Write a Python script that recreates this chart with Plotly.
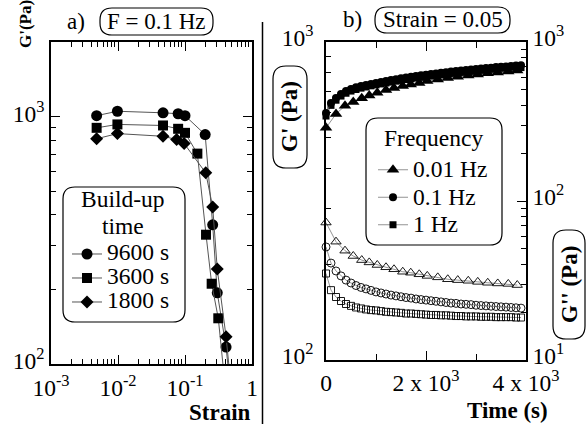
import math
import plotly.graph_objects as go

W, H = 588, 424
SERIF = "Liberation Serif, Times New Roman, Times, serif"

# ---- (a) strain sweep at F = 0.1 Hz, three build-up times ----
strain_9600 = [0.0048, 0.0098, 0.047, 0.079, 0.100, 0.200, 0.259, 0.303, 0.410, 0.500]
gp_9600 = [1008, 1050, 1035, 1026, 1008, 845, 365, 194, 117, 70]
strain_3600 = [0.0048, 0.0098, 0.047, 0.079, 0.100, 0.153, 0.206, 0.250, 0.314, 0.400]
gp_3600 = [900, 929, 920, 892, 859, 708, 333, 211, 153, 80]
strain_1800 = [0.0048, 0.0098, 0.047, 0.075, 0.097, 0.204, 0.259, 0.303, 0.410, 0.500]
gp_1800 = [813, 853, 832, 807, 778, 592, 431, 242, 129, 75]
buildup_labels = ["9600 s", "3600 s", "1800 s"]

# ---- (b) time sweep at strain 0.05, three frequencies ----
time_001 = [0, 200, 380, 545, 715, 865, 1025, 1200, 1360, 1535, 1695, 1865, 2025,
            2235, 2435, 2635, 2845, 3035, 3235, 3435, 3645, 3825]
gp_001 = [537, 594, 630, 648, 666, 679, 692, 707, 717, 727, 735, 743, 754,
          762, 771, 777, 785, 791, 797, 802, 808, 813]
gpp_001 = [73.2, 55.5, 48.7, 45.1, 42.5, 41.1, 39.6, 38.3, 37.2, 35.9, 35.4, 34.6, 33.8,
           33.1, 32.2, 31.8, 31.5, 31.0, 30.6, 30.3, 30.1, 29.6]

time_fast = [0, 100, 200, 300, 400, 500, 600, 700, 800, 900, 1000, 1100, 1200, 1300,
             1400, 1500, 1600, 1700, 1800, 1900, 2000, 2100, 2200, 2300, 2400, 2500,
             2600, 2700, 2800, 2900, 3000, 3100, 3200, 3300, 3400, 3500, 3600, 3700,
             3800, 3900]
gp_01 = [598, 643, 667, 686, 701, 711, 720, 727, 732, 738, 743, 748, 754, 760, 764,
         769, 773, 778, 782, 786, 789, 793, 796, 800, 804, 807, 811, 813, 817, 819,
         822, 826, 828, 830, 834, 836, 838, 841, 843, 845]
gp_1 = [585, 632, 656, 676, 690, 701, 709, 716, 722, 728, 733, 738, 743, 748, 753,
        757, 762, 766, 770, 774, 778, 781, 785, 788, 791, 795, 798, 801, 804, 807,
        810, 812, 815, 817, 820, 822, 825, 827, 829, 831]
gpp_01 = [51.4, 40.7, 36.3, 33.8, 31.8, 30.5, 29.4, 28.6, 28.0, 27.4, 26.8, 26.4, 26.0,
          25.6, 25.3, 25.0, 24.7, 24.5, 24.2, 24.0, 23.8, 23.6, 23.4, 23.2, 23.0, 22.8,
          22.7, 22.5, 22.4, 22.3, 22.1, 22.0, 21.9, 21.8, 21.7, 21.6, 21.5, 21.4, 21.3, 21.2]
gpp_1 = [35.0, 27.5, 24.9, 23.5, 22.5, 21.9, 21.4, 21.1, 20.8, 20.6, 20.5, 20.3, 20.1,
         20.0, 19.9, 19.8, 19.6, 19.6, 19.5, 19.4, 19.3, 19.2, 19.2, 19.1, 19.1, 19.0,
         18.9, 18.9, 18.8, 18.8, 18.8, 18.7, 18.7, 18.7, 18.6, 18.6, 18.6, 18.6, 18.5, 18.5]
freq_labels = ["0.01 Hz", "0.1 Hz", "1 Hz"]

# tick definitions
strain_ticks = [0.001, 0.01, 0.1, 1]
strain_ticktext = ["10<sup>-3</sup>", "10<sup>-2</sup>", "10<sup>-1</sup>", "1"]
time_ticks = [0, 2000, 4000]
time_ticktext = ["0", "2 x 10<sup>3</sup>", "4 x 10<sup>3</sup>"]


def px_x(x):
    return x / W


def px_y(y):
    return 1 - y / H


def decade_minors(lo, hi):
    vals = []
    for e in range(lo, hi):
        for m in range(2, 10):
            vals.append(m * 10 ** e)
    return vals


def rounded_box(x0, y0, x1, y1, r, width=1.2):
    X, Y = px_x, px_y
    path = (f"M{X(x0 + r)},{Y(y0)} L{X(x1 - r)},{Y(y0)} Q{X(x1)},{Y(y0)} {X(x1)},{Y(y0 + r)} "
            f"L{X(x1)},{Y(y1 - r)} Q{X(x1)},{Y(y1)} {X(x1 - r)},{Y(y1)} "
            f"L{X(x0 + r)},{Y(y1)} Q{X(x0)},{Y(y1)} {X(x0)},{Y(y1 - r)} "
            f"L{X(x0)},{Y(y0 + r)} Q{X(x0)},{Y(y0)} {X(x0 + r)},{Y(y0)} Z")
    return dict(type="path", xref="paper", yref="paper", path=path,
                line=dict(color="black", width=width))


def text_at(text, x, y, size, bold=False, angle=0, xanchor="center"):
    if bold:
        text = f"<b>{text}</b>"
    return dict(text=text, x=px_x(x), y=px_y(y), xref="paper", yref="paper",
                xanchor=xanchor, yanchor="middle", showarrow=False, textangle=angle,
                font=dict(family=SERIF, size=size, color="black"))


def legend_name(text, size):
    return f'<span style="font-size:{size}px">{text}</span>'


fig = go.Figure()

LINE_GREY = "#555555"

# (a) strain sweeps
for xs, ys, sym, sz, lab in [
    (strain_9600, gp_9600, "circle", 11, buildup_labels[0]),
    (strain_3600, gp_3600, "square", 10, buildup_labels[1]),
    (strain_1800, gp_1800, "diamond", 10, buildup_labels[2]),
]:
    fig.add_trace(go.Scatter(
        x=xs, y=ys, mode="lines+markers", xaxis="x", yaxis="y",
        name=legend_name(lab, 23.5), legend="legend",
        line=dict(color=LINE_GREY, width=1),
        marker=dict(symbol=sym, size=sz, color="black", line=dict(width=0)),
    ))

# (b) G'' (open symbols, right axis)
for ys, ts, sym, sz in [
    (gpp_001, time_001, "triangle-up-open", 9),
    (gpp_01, time_fast, "circle-open", 8),
    (gpp_1, time_fast, "square-open", 7),
]:
    fig.add_trace(go.Scatter(
        x=ts, y=ys, mode="lines+markers", xaxis="x2", yaxis="y3",
        showlegend=False, cliponaxis=False,
        line=dict(color="#777777", width=0.8),
        marker=dict(symbol=sym, size=sz, color="black", line=dict(width=0.9, color="black")),
    ))

# (b) G' (filled symbols, left axis)
for ys, ts, sym, sz, lab in [
    (gp_1, time_fast, "square", 7, freq_labels[2]),
    (gp_01, time_fast, "circle", 8, freq_labels[1]),
    (gp_001, time_001, "triangle-up", 11, freq_labels[0]),
]:
    fig.add_trace(go.Scatter(
        x=ts, y=ys, mode="lines+markers", xaxis="x2", yaxis="y2",
        name=legend_name(lab, 23.5), legend="legend2", cliponaxis=False,
        line=dict(color="#777777", width=0.8),
        marker=dict(symbol=sym, size=sz, color="black", line=dict(width=0)),
    ))

tickfont = dict(family=SERIF, size=23.5, color="black")
common = dict(showline=True, linecolor="black", linewidth=1.5, ticks="inside",
              tickcolor="black", tickwidth=1.2, ticklen=9, showgrid=False,
              zeroline=False, tickfont=tickfont, tickmode="array", automargin=False)
minor_style = dict(ticks="inside", ticklen=5, tickwidth=1, tickcolor="black", showgrid=False)

fig.update_layout(
    template="none",
    width=W, height=H, margin=dict(l=0, r=0, t=0, b=0, pad=0),
    paper_bgcolor="white", plot_bgcolor="white",
    font=dict(family=SERIF, color="black"),
    xaxis=dict(common, domain=[px_x(51), px_x(252)], type="log", range=[-3, 0],
               tickvals=strain_ticks, ticktext=strain_ticktext, anchor="y", mirror="ticks",
               ticklabelstandoff=2,
               minor=dict(minor_style, tickvals=decade_minors(-3, 0))),
    yaxis=dict(common, domain=[px_y(364), px_y(42)], type="log",
               range=[2, math.log10(2000)], tickvals=[100, 1000],
               ticktext=["10<sup>2</sup>", "10<sup>3</sup>"], anchor="x", mirror="ticks",
               ticklabelshift=-3,
               minor=dict(minor_style, tickvals=decade_minors(2, 3))),
    xaxis2=dict(common, domain=[px_x(326), px_x(526)], range=[0, 4000],
                tickvals=time_ticks, ticktext=time_ticktext, anchor="y2", mirror="ticks",
                ticklabelstandoff=1,
                minor=dict(minor_style, tickvals=[1000, 3000], ticklen=6)),
    yaxis2=dict(common, domain=[px_y(360), px_y(42)], type="log", range=[2, 3],
                tickvals=[100, 1000], ticktext=["10<sup>2</sup>", "10<sup>3</sup>"],
                anchor="x2", ticklabelstandoff=6, ticklabelshift=-4,
                minor=dict(minor_style, tickvals=decade_minors(2, 3))),
    yaxis3=dict(common, domain=[px_y(360), px_y(42)], type="log", range=[1, 3],
                tickvals=[10, 100, 1000],
                ticktext=["10<sup>1</sup>", "10<sup>2</sup>", "10<sup>3</sup>"],
                anchor="x2", overlaying="y2", side="right", ticklabelshift=-4,
                minor=dict(minor_style, tickvals=decade_minors(1, 3))),
    legend=dict(x=px_x(67), y=px_y(237), xanchor="left", yanchor="top",
                bgcolor="rgba(0,0,0,0)", borderwidth=0, itemwidth=30,
                font=dict(family=SERIF, size=16.15, color="black")),
    legend2=dict(x=px_x(373), y=px_y(151), xanchor="left", yanchor="top",
                 bgcolor="rgba(0,0,0,0)", borderwidth=0, itemwidth=30,
                 traceorder="reversed",
                 font=dict(family=SERIF, size=18.85, color="black")),
)

shapes = [
    # divider between the two panels
    dict(type="line", xref="paper", yref="paper", x0=px_x(262.5), x1=px_x(262.5),
         y0=px_y(22), y1=px_y(424), line=dict(color="black", width=1.5)),
    rounded_box(100, 8, 213, 35, 12),
    rounded_box(375, 7, 510, 33, 12),
    rounded_box(273, 66, 307, 168, 13),
    rounded_box(553, 230, 585, 339, 13),
    rounded_box(63, 187, 185, 322, 12),
    rounded_box(366, 118, 502, 245, 12),
]

annotations = [
    text_at("a)", 76, 21, 23),
    text_at("F = 0.1 Hz", 156, 21, 23),
    text_at("b)", 353, 20, 23),
    text_at("Strain = 0.05", 443, 20, 23),
    text_at("G'(Pa)", 26, 24, 17, bold=True, angle=-90),
    text_at("Strain", 253, 412, 23, bold=True, xanchor="right"),
    text_at("Time (s)", 507, 410, 23, bold=True),
    text_at("G' (Pa)", 290, 117, 23, bold=True, angle=-90),
    text_at("G'' (Pa)", 569, 285, 23, bold=True, angle=-90),
    text_at("Build-up", 123, 199, 23.5),
    text_at("time", 123, 226, 23.5),
    text_at("Frequency", 433, 138, 23.5),
]

fig.update_layout(shapes=shapes, annotations=annotations)

fig.write_html("out.html")
